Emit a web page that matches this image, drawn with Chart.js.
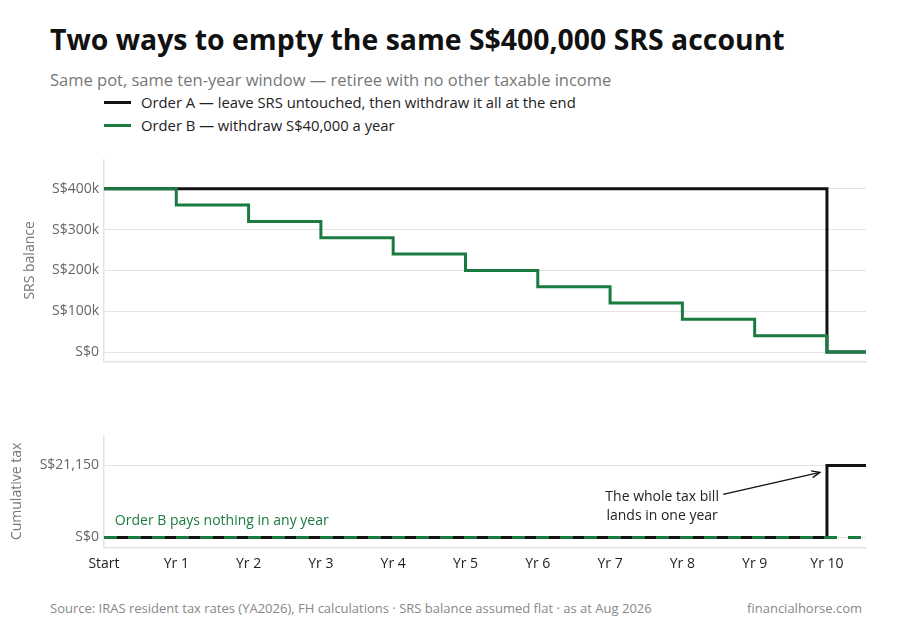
<!DOCTYPE html>
<html lang="en">
<head>
    <meta charset="UTF-8">
    <title>Two ways to empty the same S$400,000 SRS account</title>
    <script src="https://cdn.jsdelivr.net/npm/chart.js"></script>
    <style>
        body { margin: 0; background: #fff; font-family: 'Open Sans', sans-serif; }
        .page { position: relative; width: 903px; height: 640px; overflow: hidden; }
        .title { position: absolute; left: 50px; top: 25px; font-size: 28.4px; line-height: 1; font-weight: 700; color: #111; white-space: nowrap; }
        .subtitle { position: absolute; left: 50px; top: 72px; font-size: 16.5px; line-height: 1; color: #777; white-space: nowrap; }
        .legend { position: absolute; left: 104px; font-size: 14.8px; line-height: 1; color: #222; white-space: nowrap; }
        .legend span.swatch { display: inline-block; width: 27px; height: 3px; vertical-align: 4px; margin-right: 10px; }
        .footer { position: absolute; top: 602px; font-size: 13px; line-height: 1; color: #888; white-space: nowrap; }
        .panel { position: absolute; left: 0; width: 903px; }
    </style>
</head>
<body>
<div class="page">
    <div class="title">Two ways to empty the same S$400,000 SRS account</div>
    <div class="subtitle">Same pot, same ten-year window — retiree with no other taxable income</div>
    <div class="legend" id="legA" style="top:95px"></div>
    <div class="legend" id="legB" style="top:118px"></div>

    <!-- chart.js keeps ~13px above/below the plot for the y tick labels, containers are sized for that -->
    <div class="panel" style="top:145.6px;height:228.8px"><canvas id="balanceChart"></canvas></div>
    <div class="panel" style="top:421.6px;height:163.4px"><canvas id="taxChart"></canvas></div>

    <div class="footer" style="left:50px">Source: IRAS resident tax rates (YA2026), FH calculations · SRS balance assumed flat · as at Aug 2026</div>
    <div class="footer" style="right:41px">financialhorse.com</div>
</div>
<script>
    // data
    const yearLabels = ['Start', 'Yr 1', 'Yr 2', 'Yr 3', 'Yr 4', 'Yr 5', 'Yr 6', 'Yr 7', 'Yr 8', 'Yr 9', 'Yr 10'];
    const years = [0, 1, 2, 3, 4, 5, 6, 7, 8, 9, 10];
    const balanceA = [400000, 400000, 400000, 400000, 400000, 400000, 400000, 400000, 400000, 400000, 0];
    const balanceB = [400000, 360000, 320000, 280000, 240000, 200000, 160000, 120000, 80000, 40000, 0];
    const taxA = [0, 0, 0, 0, 0, 0, 0, 0, 0, 0, 21150];
    const taxB = [0, 0, 0, 0, 0, 0, 0, 0, 0, 0, 0];
    const balanceTicks = [0, 100000, 200000, 300000, 400000];
    const taxTicks = [0, 21150];

    const seriesNames = ['Order A — leave SRS untouched, then withdraw it all at the end', 'Order B — withdraw S$40,000 a year'];
    const BLACK = '#111111';
    const GREEN = '#1b7a40';
    const GRID = '#e3e3e3';
    const FONT = "'Open Sans', sans-serif";

    document.getElementById('legA').innerHTML = '<span class="swatch" style="background:' + BLACK + '"></span>' + seriesNames[0];
    document.getElementById('legB').innerHTML = '<span class="swatch" style="background:' + GREEN + '"></span>' + seriesNames[1];

    // turn a series into points; one extra point past the axis carries the last step to the edge
    function toPoints(values) {
        const pts = years.map((x, i) => ({ x: x, y: values[i] }));
        pts.push({ x: 11, y: values[values.length - 1] });
        return pts;
    }

    function xAxis(showLabels) {
        return {
            type: 'linear',
            min: 0,
            max: 10.54,
            afterBuildTicks: (s) => { s.ticks = years.map(v => ({ value: v })); },
            afterFit: (s) => { s.height = showLabels ? 30 : 0; },
            grid: { display: false, drawTicks: false },
            border: { display: true, color: GRID, width: 1.5 },
            ticks: {
                display: showLabels,
                autoSkip: false,
                maxRotation: 0,
                padding: 8,
                color: '#222',
                font: { family: FONT, size: 14 },
                callback: (v) => yearLabels[v]
            }
        };
    }

    function yAxis(min, max, tickValues, label, titlePad, fmt) {
        return {
            min: min,
            max: max,
            afterBuildTicks: (s) => { s.ticks = tickValues.map(v => ({ value: v })); },
            afterFit: (s) => { s.width = 104; },
            grid: { color: GRID, lineWidth: 1, drawTicks: false },
            border: { display: true, color: GRID, width: 1.5 },
            ticks: { padding: 5, color: '#666', font: { family: FONT, size: 14 }, callback: fmt },
            title: { display: true, text: label, color: '#777', font: { family: FONT, size: 14 }, padding: { top: titlePad, bottom: 0 } }
        };
    }

    const baseOptions = {
        responsive: true,
        maintainAspectRatio: false,
        animation: false,
        plugins: { legend: { display: false }, tooltip: { enabled: false } },
        elements: { point: { radius: 0 } }
    };

    new Chart(document.getElementById('balanceChart'), {
        type: 'line',
        data: {
            datasets: [
                { label: seriesNames[1], data: toPoints(balanceB), borderColor: GREEN, borderWidth: 3, stepped: true, order: 0 },
                { label: seriesNames[0], data: toPoints(balanceA), borderColor: BLACK, borderWidth: 3, stepped: true, order: 1 }
            ]
        },
        options: Object.assign({}, baseOptions, {
            layout: { padding: { left: 0, right: 37, top: 4, bottom: 4 } },
            scales: {
                x: xAxis(false),
                y: yAxis(-23000, 472000, balanceTicks, 'SRS balance', 22, (v) => v === 0 ? 'S$0' : 'S$' + (v / 1000) + 'k')
            }
        })
    });

    // annotation text and arrow for the tax panel
    const taxNotes = {
        id: 'taxNotes',
        afterDatasetsDraw(chart) {
            const { ctx, scales: { x, y } } = chart;
            ctx.save();
            ctx.font = '14px ' + FONT;
            ctx.textBaseline = 'middle';

            ctx.fillStyle = GREEN;
            ctx.textAlign = 'left';
            ctx.fillText('Order B pays nothing in any year', x.getPixelForValue(0.15), y.getPixelForValue(0) - 16);

            ctx.fillStyle = '#222';
            ctx.textAlign = 'center';
            const tx = x.getPixelForValue(7.72);
            const ty = y.getPixelForValue(0) - 40;
            ctx.fillText('The whole tax bill', tx, ty);
            ctx.fillText('lands in one year', tx, ty + 19);

            const x0 = tx + 61, y0 = ty - 3;
            const x1 = x.getPixelForValue(10) - 7, y1 = y.getPixelForValue(21150) + 7;
            ctx.strokeStyle = '#111';
            ctx.lineWidth = 1.3;
            ctx.beginPath();
            ctx.moveTo(x0, y0);
            ctx.lineTo(x1, y1);
            ctx.stroke();
            const a = Math.atan2(y1 - y0, x1 - x0);
            ctx.beginPath();
            ctx.moveTo(x1 - 9 * Math.cos(a - 0.4), y1 - 9 * Math.sin(a - 0.4));
            ctx.lineTo(x1, y1);
            ctx.lineTo(x1 - 9 * Math.cos(a + 0.4), y1 - 9 * Math.sin(a + 0.4));
            ctx.stroke();
            ctx.restore();
        }
    };

    new Chart(document.getElementById('taxChart'), {
        type: 'line',
        data: {
            datasets: [
                { label: seriesNames[1], data: toPoints(taxB), borderColor: GREEN, borderWidth: 3, borderDash: [13, 11], stepped: true, order: 0 },
                { label: seriesNames[0], data: toPoints(taxA), borderColor: BLACK, borderWidth: 3, stepped: true, order: 1 }
            ]
        },
        options: Object.assign({}, baseOptions, {
            layout: { padding: { left: 0, right: 37, top: 4, bottom: 8 } },
            scales: {
                x: xAxis(true),
                y: yAxis(-2940, 29960, taxTicks, 'Cumulative tax', 9, (v) => 'S$' + v.toLocaleString('en-US'))
            }
        }),
        plugins: [taxNotes]
    });
</script>
</body>
</html>
